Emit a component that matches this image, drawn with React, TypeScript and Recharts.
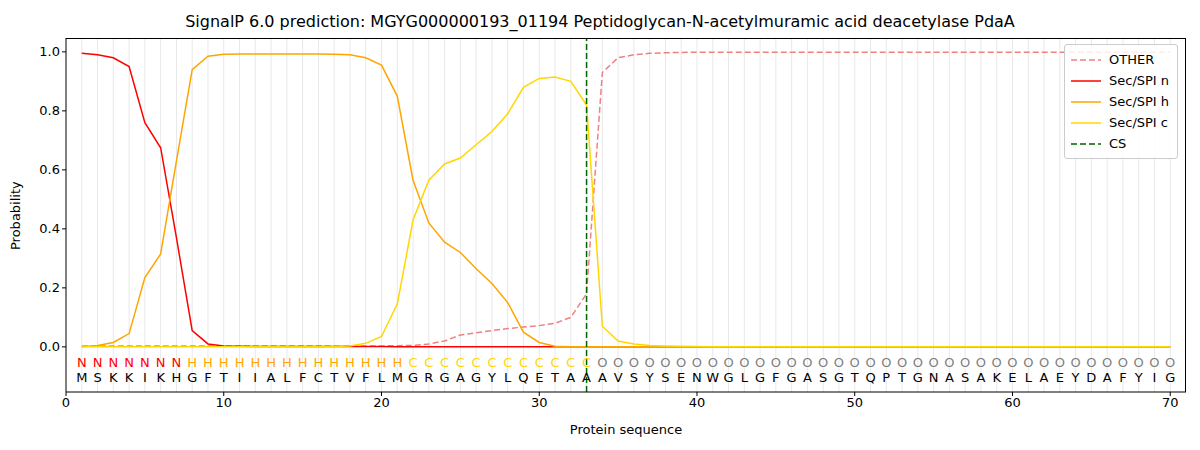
import React from 'react';
import { LineChart, Line, XAxis, YAxis, ReferenceLine } from 'recharts';

const sequence = 'MSKKIKHGFTIIALFCTVFLMGRGAGYLQETAAAVSYSENWGLGFGASGTQPTGNASAKELAEYDAFYIG'.split('');
const regionLabels = 'NNNNNNNHHHHHHHHHHHHHHCCCCCCCCCCCCOOOOOOOOOOOOOOOOOOOOOOOOOOOOOOOOOOOOO'.split('');

const secN = [0.995, 0.99, 0.98, 0.95, 0.76, 0.675, 0.37, 0.055, 0.01, 0.003, 0.002, 0.001, 0.001, 0.001, 0.001, 0.001, 0.001, 0.001, 0.001, 0.001,
  0, 0, 0, 0, 0, 0, 0, 0, 0, 0, 0, 0, 0, 0, 0, 0, 0, 0, 0, 0, 0, 0, 0, 0, 0, 0, 0, 0, 0, 0, 0, 0, 0, 0, 0, 0, 0, 0, 0, 0, 0, 0, 0, 0, 0, 0, 0, 0, 0, 0];
const secH = [0, 0.005, 0.015, 0.045, 0.235, 0.315, 0.63, 0.94, 0.985, 0.992, 0.993, 0.993, 0.993, 0.993, 0.993, 0.993, 0.992, 0.99, 0.98, 0.955,
  0.85, 0.565, 0.42, 0.355, 0.32, 0.265, 0.215, 0.15, 0.05, 0.015, 0.002, 0, 0, 0, 0, 0, 0, 0, 0, 0, 0, 0, 0, 0, 0, 0, 0, 0, 0, 0, 0, 0, 0, 0, 0, 0, 0, 0, 0, 0, 0, 0, 0, 0, 0, 0, 0, 0, 0, 0];
const secC = [0, 0, 0, 0, 0, 0, 0, 0, 0, 0, 0, 0, 0, 0, 0, 0, 0.001, 0.003, 0.012, 0.035,
  0.145, 0.43, 0.565, 0.62, 0.64, 0.685, 0.73, 0.79, 0.88, 0.91, 0.915, 0.9, 0.82, 0.07, 0.02, 0.01, 0.005, 0.003, 0.002, 0.001,
  0, 0, 0, 0, 0, 0, 0, 0, 0, 0, 0, 0, 0, 0, 0, 0, 0, 0, 0, 0, 0, 0, 0, 0, 0, 0, 0, 0, 0, 0];
const other = [0.003, 0.003, 0.003, 0.003, 0.003, 0.003, 0.003, 0.003, 0.003, 0.003, 0.003, 0.003, 0.003, 0.003, 0.003, 0.003, 0.003, 0.003, 0.003, 0.003,
  0.004, 0.005, 0.01, 0.02, 0.04, 0.048, 0.055, 0.062, 0.067, 0.072, 0.08, 0.1, 0.18, 0.93, 0.98, 0.99, 0.995, 0.997, 0.998, 0.999,
  0.999, 0.999, 0.999, 0.999, 0.999, 0.999, 0.999, 0.999, 0.999, 0.999, 0.999, 0.999, 0.999, 0.999, 0.999, 0.999, 0.999, 0.999, 0.999, 0.999,
  0.999, 0.999, 0.999, 0.999, 0.999, 0.999, 0.999, 0.999, 0.999, 0.999];
const cleavageSite = 33;
const xTicks = [0, 10, 20, 30, 40, 50, 60, 70];
const yTicks = [0, 0.2, 0.4, 0.6, 0.8, 1.0];
const xDomain = [0, 71];
const yDomain = [-0.153, 1.047];

const labelColor: Record<string, string> = { N: '#ff0000', H: '#ffa500', C: '#ffd700', O: '#808080' };

const data = sequence.map((aa, i) => ({
  pos: i + 1,
  aa,
  region: regionLabels[i],
  other: other[i],
  n: secN[i],
  h: secH[i],
  c: secC[i],
  row: -0.05,
}));

const LetterDot = (props: any) => {
  const { cx, cy, payload } = props;
  return (
    <g key={payload.pos}>
      <text x={cx} y={cy + 5} textAnchor="middle" fontSize={13} fill={labelColor[payload.region]}>{payload.region}</text>
      <text x={cx} y={cy + 20} textAnchor="middle" fontSize={13} fill="#000">{payload.aa}</text>
    </g>
  );
};

const legendItems = [
  { name: 'OTHER', color: '#f08080', dash: true },
  { name: 'Sec/SPI n', color: '#ff0000', dash: false },
  { name: 'Sec/SPI h', color: '#ffa500', dash: false },
  { name: 'Sec/SPI c', color: '#ffd700', dash: false },
  { name: 'CS', color: '#006400', dash: true },
];

export default function App() {
  return (
    <div style={{ position: 'absolute', left: 0, top: 0, width: 1200, height: 450, background: '#fff', fontFamily: 'DejaVu Sans, sans-serif' }}>
      <div style={{ position: 'absolute', top: 12, width: 1200, textAlign: 'center', fontSize: 16 }}>
        SignalP 6.0 prediction: MGYG000000193_01194 Peptidoglycan-N-acetylmuramic acid deacetylase PdaA
      </div>
      <LineChart width={1200} height={450} data={data} margin={{ top: 38, right: 14, bottom: 0, left: 11 }}>
        {data.map((d) => (
          <ReferenceLine key={d.pos} x={d.pos} stroke="#e8e8e8" strokeWidth={1} />
        ))}
        <XAxis dataKey="pos" type="number" domain={xDomain} ticks={xTicks} height={58} stroke="#000"
          tick={{ fontSize: 13, fill: '#000' }} tickSize={4}
          label={{ value: 'Protein sequence', position: 'insideBottom', offset: 16, fontSize: 13, fill: '#000' }} />
        <YAxis type="number" domain={yDomain} ticks={yTicks} width={55} stroke="#000"
          tick={{ fontSize: 13, fill: '#000' }} tickSize={4} tickFormatter={(v: number) => v.toFixed(1)}
          label={{ value: 'Probability', angle: -90, position: 'insideLeft', offset: 4, dy: 35, fontSize: 13, fill: '#000' }} />
        <Line dataKey="other" stroke="#f08080" strokeWidth={1.5} strokeDasharray="6 3" dot={false} isAnimationActive={false} />
        <Line dataKey="n" stroke="#ff0000" strokeWidth={1.5} dot={false} isAnimationActive={false} />
        <Line dataKey="h" stroke="#ffa500" strokeWidth={1.5} dot={false} isAnimationActive={false} />
        <Line dataKey="c" stroke="#ffd700" strokeWidth={1.5} dot={false} isAnimationActive={false} />
        <Line dataKey="row" stroke="none" dot={LetterDot} activeDot={false} isAnimationActive={false} />
        <ReferenceLine x={cleavageSite} stroke="#006400" strokeWidth={1.5} strokeDasharray="6 3" />
      </LineChart>
      <div style={{ position: 'absolute', left: 66, top: 38, width: 1120, height: 354, borderTop: '1px solid #000', borderRight: '1px solid #000', boxSizing: 'border-box', pointerEvents: 'none' }} />
      <div style={{ position: 'absolute', left: 1064, top: 44, width: 112, padding: '4px 0', border: '1px solid #ccc', borderRadius: 3, background: 'rgba(255,255,255,0.85)', fontSize: 13 }}>
        {legendItems.map((it) => (
          <div key={it.name} style={{ display: 'flex', alignItems: 'center', height: 21, paddingLeft: 6 }}>
            <svg width={30} height={10} style={{ marginRight: 8 }}>
              <line x1={0} y1={5} x2={30} y2={5} stroke={it.color} strokeWidth={1.5} strokeDasharray={it.dash ? '6 3' : undefined} />
            </svg>
            {it.name}
          </div>
        ))}
      </div>
    </div>
  );
}
